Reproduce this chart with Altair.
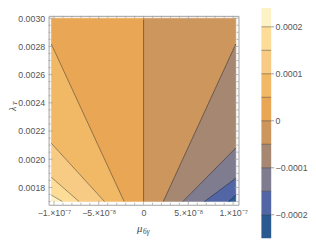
import altair as alt
import pandas as pd

# ---------------- data ----------------
# contour bands (lower / upper level) and their colours
band_lo = [0.0002, 0.00015, 0.0001, 0.00005, 0.0, -0.00005, -0.0001, -0.00015, -0.0002, -0.00025]
band_hi = [0.00025, 0.0002, 0.00015, 0.0001, 0.00005, 0.0, -0.00005, -0.0001, -0.00015, -0.0002]
band_colors = ["#FDF2C5", "#FCDC97", "#F7CB84", "#F1B866", "#E9A654",
               "#CD965C", "#A68872", "#7F7C8F", "#5266A5", "#2A5A90"]

# plotted region
MU_EDGE = 1.03e-7
LAM_MIN, LAM_MAX = 0.0017, 0.0030

# contour lines of the left half (positive levels): lambda where they meet the
# left edge, mu where they meet the bottom edge
left_levels = [0.00005, 0.0001, 0.00015, 0.0002]
left_edge_lam = [0.002817, 0.002113, 0.001872, 0.001746]
left_bottom_mu = [-2.17e-8, -4.36e-8, -7.2e-8, -9.07e-8]
# right half (negative levels)
right_levels = [-0.00005, -0.0001, -0.00015, -0.0002]
right_edge_lam = [0.002817, 0.00208, 0.001865, 0.001746]
right_bottom_mu = [2.2e-8, 4.39e-8, 6.8e-8, 9.5e-8]

# ticks
x_major = [-1e-7, -5e-8, 0.0, 5e-8, 1e-7]
x_major_labels = ["\u22121.\u00d710\u207b\u2077", "\u22125.\u00d710\u207b\u2078", "0",
                  "5.\u00d710\u207b\u2078", "1.\u00d710\u207b\u2077"]
x_minor = [-9e-8, -8e-8, -7e-8, -6e-8, -4e-8, -3e-8, -2e-8, -1e-8,
           1e-8, 2e-8, 3e-8, 4e-8, 6e-8, 7e-8, 8e-8, 9e-8]
y_major = [0.0018, 0.0020, 0.0022, 0.0024, 0.0026, 0.0028, 0.0030]
y_minor = [0.0017, 0.00175, 0.00185, 0.0019, 0.00195, 0.00205, 0.0021, 0.00215,
           0.00225, 0.0023, 0.00235, 0.00245, 0.0025, 0.00255, 0.00265, 0.0027,
           0.00275, 0.00285, 0.0029, 0.00295]
legend_ticks = [0.0002, 0.0001, 0.0, -0.0001, -0.0002]
legend_tick_labels = ["0.0002", "0.0001", "0", "\u22120.0001", "\u22120.0002"]

# ---------------- layout ----------------
W, H = 194, 193
X_DOM = [-1.06e-7, 1.06e-7]
Y_DOM = [0.001677, 0.0030167]
LEG_DOM = [-1.7875e-4, 2.2333e-4]
LEG_X0, LEG_X1 = 217.4, 227.4
FRAME = "#a0a0a0"
LABEL = "#555555"


def key(v):
    return f"{v:+.5f}"


band_keys = [key(v) for v in band_lo]

# polygons for the filled bands
poly_rows = []
line_rows = []


def add_side(name, edge_mu, levels, edge_lams, bottom_mus, outer):
    bounds = [[(edge_mu, LAM_MAX), (0.0, LAM_MAX), (0.0, LAM_MIN)]]
    for lam, mu in zip(edge_lams, bottom_mus):
        bounds.append([(edge_mu, lam), (mu, LAM_MIN)])
    bounds.append([(edge_mu, LAM_MIN)])
    lv = [0.0] + levels + [outer]
    for i in range(len(bounds) - 1):
        pts = bounds[i] + list(reversed(bounds[i + 1]))
        lo = min(lv[i], lv[i + 1])
        for j, (m, l) in enumerate(pts):
            poly_rows.append({"poly": f"{name}{i}", "o": j, "mu": m, "lam": l, "band": key(lo)})
    for i, (lam, mu) in enumerate(zip(edge_lams, bottom_mus)):
        line_rows.append({"line": f"{name}{i}", "o": 0, "mu": edge_mu, "lam": lam})
        line_rows.append({"line": f"{name}{i}", "o": 1, "mu": mu, "lam": LAM_MIN})


add_side("L", -MU_EDGE, left_levels, left_edge_lam, left_bottom_mu, band_hi[0])
add_side("R", MU_EDGE, right_levels, right_edge_lam, right_bottom_mu, band_lo[-1])
line_rows.append({"line": "C", "o": 0, "mu": 0.0, "lam": LAM_MAX})
line_rows.append({"line": "C", "o": 1, "mu": 0.0, "lam": LAM_MIN})

poly_df = pd.DataFrame(poly_rows)
line_df = pd.DataFrame(line_rows)

xs = alt.Scale(domain=X_DOM, nice=False, zero=False)
ys = alt.Scale(domain=Y_DOM, nice=False, zero=False)
fill_scale = alt.Scale(domain=band_keys, range=band_colors)

label_expr = " : ".join(
    f"datum.value == {repr(float(v))} ? '{s}'" for v, s in zip(x_major, x_major_labels)
) + " : ''"

polys = alt.Chart(poly_df).mark_line(interpolate="linear-closed", strokeWidth=0.5).encode(
    x=alt.X("mu:Q", scale=xs, title=None,
            axis=alt.Axis(values=x_major, tickCount=len(x_major), labelExpr=label_expr,
                          ticks=False, domain=False, grid=False, labelFontSize=9,
                          labelColor=LABEL, labelPadding=4, labelOverlap=False,
                          labelFont="Liberation Sans", labelFlush=False)),
    y=alt.Y("lam:Q", scale=ys, title=None,
            axis=alt.Axis(values=y_major, tickCount=len(y_major), format=".4f",
                          ticks=False, domain=False, grid=False, labelFontSize=9,
                          labelColor=LABEL, labelPadding=4, labelOverlap=False,
                          labelFont="Liberation Sans", labelFlush=False)),
    detail="poly:N",
    order="o:Q",
    fill=alt.Fill("band:N", scale=fill_scale, legend=None),
    stroke=alt.Stroke("band:N", scale=fill_scale, legend=None),
)

contours = alt.Chart(line_df).mark_line(color="#000000", strokeWidth=0.8, opacity=0.5).encode(
    x=alt.X("mu:Q", scale=xs),
    y=alt.Y("lam:Q", scale=ys),
    detail="line:N",
    order="o:Q",
)

xmaj_df = pd.DataFrame({"t": x_major})
xmin_df = pd.DataFrame({"t": x_minor})
ymaj_df = pd.DataFrame({"t": y_major})
ymin_df = pd.DataFrame({"t": y_minor})


def xticks(df, length):
    base = alt.Chart(df).mark_rule(color=FRAME, strokeWidth=0.8)
    bottom = base.encode(x=alt.X("t:Q", scale=xs), y=alt.value(H), y2=alt.value(H - length))
    top = base.encode(x=alt.X("t:Q", scale=xs), y=alt.value(0), y2=alt.value(length))
    return [bottom, top]


def yticks(df, length):
    base = alt.Chart(df).mark_rule(color=FRAME, strokeWidth=0.8)
    left = base.encode(y=alt.Y("t:Q", scale=ys), x=alt.value(0), x2=alt.value(length))
    right = base.encode(y=alt.Y("t:Q", scale=ys), x=alt.value(W), x2=alt.value(W - length))
    return [left, right]


one = pd.DataFrame({"k": [0]})
title_style = dict(font="Liberation Serif", fontStyle="italic", color="#444444")
x_title = alt.Chart(one).mark_text(fontSize=11, baseline="middle", align="center", **title_style).encode(
    x=alt.value(93), y=alt.value(218), text=alt.value("\u03bc"))
x_title_sub = alt.Chart(one).mark_text(fontSize=7.5, baseline="middle", align="left", **title_style).encode(
    x=alt.value(96.5), y=alt.value(220.5), text=alt.value("6\u03b3"))
y_title = alt.Chart(one).mark_text(fontSize=10, baseline="middle", align="center", angle=270, **title_style).encode(
    x=alt.value(-36.5), y=alt.value(95), text=alt.value("\u03bb"))
y_title_sub = alt.Chart(one).mark_text(fontSize=7, baseline="middle", align="center", angle=270, **title_style).encode(
    x=alt.value(-34), y=alt.value(89.5), text=alt.value("T"))

main = alt.layer(polys, contours, *xticks(xmaj_df, 4), *xticks(xmin_df, 2),
                 *yticks(ymaj_df, 4), *yticks(ymin_df, 2),
                 x_title, x_title_sub, y_title, y_title_sub)

# ---------------- colour bar ----------------
leg_scale = alt.Scale(domain=LEG_DOM, nice=False, zero=False)
bands_df = pd.DataFrame({"lo": band_lo, "hi": band_hi, "band": band_keys})
edges_df = pd.DataFrame({"e": band_lo[:-1]})
lticks_df = pd.DataFrame({"v": legend_ticks, "lab": legend_tick_labels})

leg_rect = alt.Chart(bands_df).mark_rect().encode(
    x=alt.value(LEG_X0), x2=alt.value(LEG_X1),
    y=alt.Y("lo:Q", scale=leg_scale, axis=None), y2="hi:Q",
    fill=alt.Fill("band:N", scale=fill_scale, legend=None),
)
leg_edges = alt.Chart(edges_df).mark_rule(color="#000000", opacity=0.45, strokeWidth=0.8).encode(
    x=alt.value(LEG_X0), x2=alt.value(LEG_X1), y=alt.Y("e:Q", scale=leg_scale, axis=None))
leg_ticks = alt.Chart(lticks_df).mark_rule(color="#888888", strokeWidth=0.8).encode(
    x=alt.value(LEG_X1), x2=alt.value(LEG_X1 + 3), y=alt.Y("v:Q", scale=leg_scale, axis=None))
leg_labels = alt.Chart(lticks_df).mark_text(align="left", baseline="middle", fontSize=9,
                                            font="Liberation Sans", color=LABEL).encode(
    x=alt.value(LEG_X1 + 4.5), y=alt.Y("v:Q", scale=leg_scale, axis=None), text="lab:N")

legend = alt.layer(leg_rect, leg_edges, leg_ticks, leg_labels)

chart = alt.layer(main, legend).resolve_scale(y="independent").properties(
    width=W, height=H,
    padding={"left": -0.5, "top": -7.5, "right": 0, "bottom": 0},
).configure_view(stroke=FRAME, strokeWidth=1)

chart.save("out.html", embed_options={"renderer": "svg", "actions": False})
